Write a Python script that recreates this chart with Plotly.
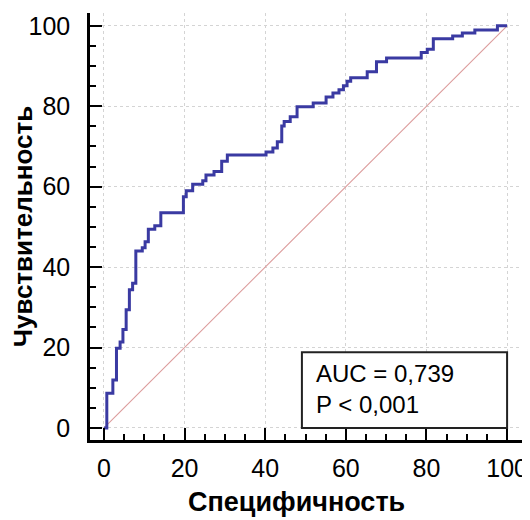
import plotly.graph_objects as go

# ROC curve step vertices (specificity axis value, sensitivity), drawn with 'hv' steps
spec = [0, 0.7, 2.2, 3.1, 4.0, 4.7, 5.5, 6.3, 7.1, 7.9, 9.5, 10.2, 11.0, 12.6, 14.1,
        19.7, 20.4, 22.0, 24.5, 25.3, 27.3, 29.2, 30.6, 40.2, 41.9, 43.0, 44.1, 44.7,
        46.2, 47.9, 51.9, 55.1, 56.8, 58.3, 59.4, 60.3, 61.2, 65.3, 67.6, 70.1, 78.7,
        80.2, 81.7, 86.5, 88.9, 92.0, 97.6, 100]
sens = [0, 8.6, 11.9, 19.8, 21.4, 24.5, 29.4, 34.4, 36.0, 44.0, 44.8, 46.3, 49.4, 50.3,
        53.5, 57.5, 59.0, 60.6, 61.5, 62.9, 63.8, 66.3, 67.9, 68.6, 69.6, 71.2, 75.1,
        76.2, 77.4, 79.9, 80.8, 82.3, 83.3, 84.1, 85.1, 86.2, 87.1, 88.6, 91.1, 92.0,
        93.4, 94.2, 96.8, 97.5, 98.2, 99.0, 100, 100]

diag_x = [0, 100]
diag_y = [0, 100]

tick_vals = [0, 20, 40, 60, 80, 100]
tick_text = ["0", "20", "40", "60", "80", "100"]

x_title = "Специфичность"
y_title = "Чувствительность"
stats_lines = ["AUC = 0,739", "P &lt; 0,001"]

fig = go.Figure()
fig.add_trace(go.Scatter(x=diag_x, y=diag_y, mode="lines",
                         line=dict(color="#dc9c9c", width=1.1), hoverinfo="skip"))
fig.add_trace(go.Scatter(x=spec, y=sens, mode="lines", line_shape="hv",
                         line=dict(color="#3a3aa2", width=3)))

axis_common = dict(
    tickvals=tick_vals, ticktext=tick_text,
    showline=True, linecolor="black", linewidth=2.5,
    ticks="inside", ticklen=12, tickwidth=2, tickcolor="black",
    minor=dict(ticks="inside", ticklen=6, tickwidth=1.5, tickcolor="black",
               dtick=5, tick0=0, showgrid=False),
    showgrid=True, gridcolor="#d4d4d4", gridwidth=1, griddash="dot",
    zeroline=False, automargin=False,
    tickfont=dict(family="Liberation Sans, Arial", size=25, color="black"),
    mirror=False,
)

fig.update_xaxes(range=[-3.47, 103.7], **axis_common, ticklabelstandoff=4)
fig.update_yaxes(range=[-3.0, 103.2], **axis_common, ticklabelstandoff=12,
                 title=dict(text=y_title, standoff=15,
                            font=dict(family="Liberation Sans, Arial", size=26,
                                      color="black", weight="bold")))

fig.add_annotation(xref="paper", yref="paper", x=0.479, y=-0.185,
                   xanchor="center", yanchor="bottom", showarrow=False, text=x_title,
                   font=dict(family="Liberation Sans, Arial", size=27,
                             color="black", weight="bold"))

fig.add_shape(type="rect", xref="x", yref="y", x0=49.1, x1=100, y0=0, y1=18.8,
              line=dict(color="#222222", width=2), fillcolor="white", layer="above")
fig.add_annotation(xref="x", yref="y", x=52, y=9.6, xanchor="left", yanchor="middle",
                   align="left", showarrow=False, text="<br>".join(stats_lines),
                   font=dict(family="Liberation Sans, Arial", size=24, color="black"))

# page body has an 8px default margin, so the figure is 8px smaller each way
fig.update_layout(
    width=522, height=512,
    margin=dict(l=82, r=8, t=5, b=80),
    paper_bgcolor="white", plot_bgcolor="white",
    showlegend=False,
)

fig.write_html("out.html")
